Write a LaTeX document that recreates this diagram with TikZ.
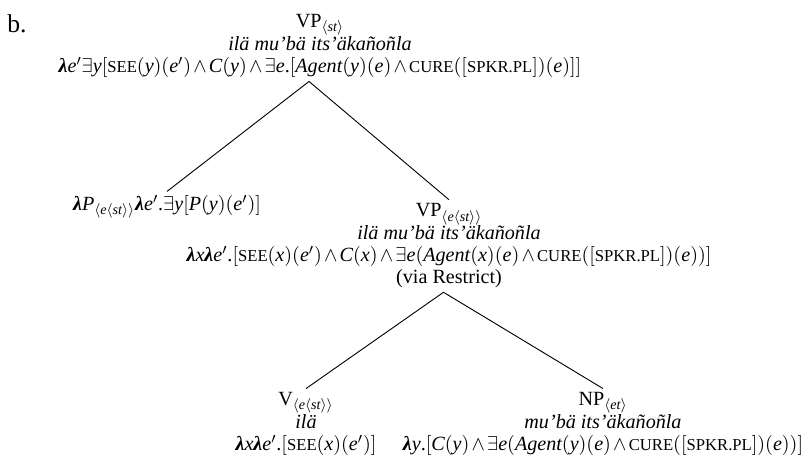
\documentclass[tikz,border=0pt]{standalone}
\usepackage{amsmath}
\usepackage{fontspec}
\setmainfont{Liberation Serif}
\DeclareSymbolFont{letters}{TU}{\rmdefault}{m}{it}
\DeclareSymbolFont{bletters}{TU}{\rmdefault}{b}{it}
\Umathchardef\blamchar="0 \symbletters "03BB
\mathcode`.="002E
\medmuskip=2mu\relax
\usetikzlibrary{positioning}

\newcommand{\lam}{\mathord{\blamchar}}
\newcommand{\fsc}[1]{\text{\fontsize{9.1}{10}\selectfont #1}}

\begin{document}
\begin{tikzpicture}[x=0.5464pt,y=-0.5464pt,
                    semnode/.style={align=center,inner sep=2pt,
                      font=\fontsize{11}{12.2}\selectfont},
                    branch/.style={line width=0.5pt}]
    \useasboundingbox (0,0) rectangle (808,460);

    \node[anchor=base west,inner sep=0pt,font=\fontsize{14}{16}\selectfont] (label) at (7,32) {b.};

    \node[semnode] (vp) at (320,46)
      {VP$_{\langle st\rangle}$\\
       \textit{ilä mu’bä its’äkañoñla}\\
       $\lam e'\exists y[\fsc{SEE}(y)(e')\wedge C(y)\wedge\exists e.[\mathit{Agent}(y)(e)\wedge\fsc{CURE}([\fsc{SPKR.PL}])(e)]]$};

    \node[semnode] (quant) at (167,207)
      {$\lam P_{\langle e\langle st\rangle\rangle}\lam e'.\exists y[P(y)(e')]$};

    \node[semnode] (vpres) at (449,246)
      {VP$_{\langle e\langle st\rangle\rangle}$\\
       \textit{ilä mu’bä its’äkañoñla}\\
       $\lam x\lam e'.[\fsc{SEE}(x)(e')\wedge C(x)\wedge\exists e(\mathit{Agent}(x)(e)\wedge\fsc{CURE}([\fsc{SPKR.PL}])(e))]$\\
       (via Restrict)};

    \node[semnode] (verb) at (306,424)
      {V$_{\langle e\langle st\rangle\rangle}$\\
       \textit{ilä}\\
       $\lam x\lam e'.[\fsc{SEE}(x)(e')]$};

    \node[semnode] (np) at (603,424)
      {NP$_{\langle et\rangle}$\\
       \textit{mu’bä its’äkañoñla}\\
       $\lam y.[C(y)\wedge\exists e(\mathit{Agent}(y)(e)\wedge\fsc{CURE}([\fsc{SPKR.PL}])(e))]$};

    % edges leave the root a little left of its centre
    \draw[branch] ([xshift=-6pt]vp.south) -- (quant.north);
    \draw[branch] ([xshift=-6pt]vp.south) -- (vpres.north);
    \draw[branch] ([xshift=-3pt]vpres.south) -- (verb.north);
    \draw[branch] ([xshift=-3pt]vpres.south) -- (np.north);
\end{tikzpicture}
\end{document}
